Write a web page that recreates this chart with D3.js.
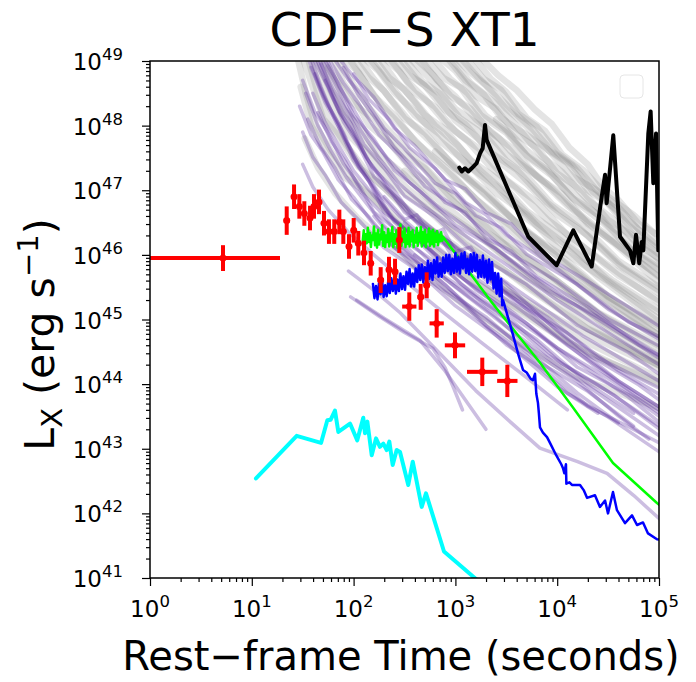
<!DOCTYPE html>
<html>
<head>
<meta charset="utf-8">
<script src="https://cdn.jsdelivr.net/npm/d3@7"></script>
<style>
    body { margin: 0; background: #fff; }
    #lightcurves { width: 696px; height: 682px; }
    svg { font-family: "DejaVu Sans", sans-serif; }
</style>
</head>
<body>
<div id="lightcurves"></div>
<script>
// all values are log10: [log t (s), log Lx (erg/s)]
const xTickExponents = [0, 1, 2, 3, 4, 5];
const yTickExponents = [41, 42, 43, 44, 45, 46, 47, 48, 49];
const minorMultipliers = [2, 3, 4, 5, 6, 7, 8, 9];

const redLogT = [0.717, 1.343, 1.415, 1.467, 1.516, 1.572, 1.611, 1.660, 1.709, 1.758, 1.810, 1.860, 1.899, 1.955, 2.001, 2.046, 2.102, 2.168, 2.266, 2.348, 2.407, 2.449, 2.547, 2.659, 2.718, 2.816, 2.996, 3.264, 3.510];
const redLogL = [45.95, 46.53, 46.90, 46.75, 46.64, 46.57, 46.75, 46.82, 46.49, 46.36, 46.36, 46.51, 46.36, 46.13, 46.38, 46.18, 46.03, 45.87, 45.61, 45.77, 45.74, 46.23, 45.20, 45.35, 45.53, 44.94, 44.60, 44.19, 44.05];
const redTErrLo = [0.717, 0.03, 0.025, 0.025, 0.025, 0.025, 0.025, 0.025, 0.025, 0.025, 0.025, 0.025, 0.025, 0.025, 0.025, 0.025, 0.025, 0.025, 0.03, 0.03, 0.03, 0.03, 0.07, 0.03, 0.03, 0.07, 0.10, 0.15, 0.10];
const redTErrHi = [0.56, 0.03, 0.025, 0.025, 0.025, 0.025, 0.025, 0.025, 0.025, 0.025, 0.025, 0.025, 0.025, 0.025, 0.025, 0.025, 0.025, 0.025, 0.03, 0.03, 0.03, 0.03, 0.07, 0.03, 0.03, 0.07, 0.10, 0.15, 0.10];
const redLErr = [0.2, 0.22, 0.19, 0.19, 0.19, 0.19, 0.19, 0.19, 0.19, 0.19, 0.19, 0.19, 0.19, 0.19, 0.19, 0.19, 0.19, 0.19, 0.2, 0.2, 0.2, 0.2, 0.22, 0.2, 0.2, 0.22, 0.2, 0.22, 0.25];

const greenCurve = [
    [2.09, 46.22], [2.10, 46.38], [2.11, 46.13], [2.12, 46.32], [2.13, 46.18], [2.14, 46.42], [2.15, 46.20], [2.16, 46.34],
    [2.17, 46.12], [2.18, 46.30], [2.19, 46.23], [2.20, 46.44], [2.21, 46.15], [2.22, 46.33], [2.23, 46.11], [2.24, 46.39],
    [2.25, 46.16], [2.26, 46.31], [2.27, 46.24], [2.28, 46.46], [2.29, 46.14], [2.30, 46.35], [2.31, 46.12], [2.32, 46.30],
    [2.33, 46.20], [2.34, 46.40], [2.35, 46.13], [2.36, 46.33], [2.37, 46.21], [2.38, 46.43], [2.39, 46.12], [2.40, 46.32],
    [2.41, 46.17], [2.42, 46.38], [2.43, 46.11], [2.44, 46.30], [2.45, 46.24], [2.46, 46.47], [2.47, 46.14], [2.48, 46.36],
    [2.49, 46.20], [2.50, 46.41], [2.51, 46.12], [2.52, 46.31], [2.53, 46.17], [2.54, 46.42], [2.55, 46.13], [2.56, 46.35],
    [2.57, 46.21], [2.58, 46.38], [2.59, 46.12], [2.60, 46.30], [2.61, 46.19], [2.62, 46.42], [2.63, 46.14], [2.64, 46.34],
    [2.65, 46.22], [2.66, 46.43], [2.67, 46.13], [2.68, 46.35], [2.69, 46.18], [2.70, 46.39], [2.71, 46.12], [2.72, 46.31],
    [2.73, 46.21], [2.74, 46.41], [2.75, 46.14], [2.76, 46.36], [2.77, 46.17], [2.78, 46.39], [2.79, 46.13], [2.80, 46.33],
    [2.81, 46.20], [2.82, 46.37], [2.83, 46.15], [2.84, 46.31], [2.85, 46.21], [2.86, 46.35], [2.87, 46.22], [2.878, 46.28],
    [3.34, 45.30], [3.831, 44.33], [4.155, 43.64], [4.548, 42.78], [4.98, 42.16], [5.05, 42.07]
];

const blueCurve = [
    [2.190, 45.55], [2.205, 45.33], [2.220, 45.52], [2.235, 45.31], [2.250, 45.57], [2.265, 45.39], [2.280, 45.60], [2.295, 45.35],
    [2.310, 45.53], [2.325, 45.36], [2.340, 45.59], [2.355, 45.41], [2.370, 45.64], [2.385, 45.44], [2.400, 45.65], [2.415, 45.40],
    [2.430, 45.62], [2.445, 45.44], [2.460, 45.71], [2.475, 45.47], [2.490, 45.67], [2.505, 45.46], [2.520, 45.74], [2.535, 45.55],
    [2.550, 45.78], [2.565, 45.51], [2.580, 45.71], [2.595, 45.51], [2.610, 45.79], [2.625, 45.58], [2.640, 45.84], [2.655, 45.61],
    [2.670, 45.85], [2.685, 45.57], [2.700, 45.81], [2.715, 45.60], [2.730, 45.91], [2.745, 45.63], [2.760, 45.87], [2.775, 45.61],
    [2.790, 45.92], [2.805, 45.71], [2.820, 45.96], [2.835, 45.66], [2.850, 45.87], [2.865, 45.66], [2.880, 45.96], [2.895, 45.72],
    [2.910, 46.00], [2.925, 45.75], [2.940, 46.00], [2.955, 45.70], [2.970, 45.94], [2.985, 45.72], [3.000, 46.03], [3.015, 45.74],
    [3.030, 45.97], [3.045, 45.71], [3.060, 46.02], [3.075, 45.79], [3.090, 46.04], [3.105, 45.72], [3.120, 45.94], [3.135, 45.70],
    [3.150, 46.01], [3.165, 45.74], [3.180, 46.03], [3.195, 45.75], [3.210, 46.00], [3.225, 45.65], [3.240, 45.92], [3.255, 45.66],
    [3.270, 45.99], [3.285, 45.65], [3.300, 45.91], [3.315, 45.57], [3.330, 45.93], [3.345, 45.62], [3.360, 45.89], [3.375, 45.48],
    [3.390, 45.72], [3.405, 45.40], [3.420, 45.71], [3.435, 45.36], [3.450, 45.63], [3.460, 45.22], [3.468, 45.30],
    [3.55, 44.85], [3.62, 44.45], [3.664, 44.22], [3.70, 44.18], [3.74, 44.08], [3.762, 44.06], [3.782, 44.16],
    [3.795, 43.85], [3.811, 43.71], [3.82, 43.55], [3.831, 43.33], [3.86, 43.25], [3.90, 43.18], [3.929, 43.09], [3.99, 42.90],
    [4.04, 42.76], [4.057, 42.70], [4.07, 42.62], [4.086, 42.76], [4.09, 42.46], [4.12, 42.48], [4.145, 42.44], [4.224, 42.44],
    [4.26, 42.36], [4.293, 42.24], [4.371, 42.28], [4.42, 42.10], [4.47, 42.20], [4.499, 42.00], [4.548, 42.33], [4.587, 42.05],
    [4.666, 41.85], [4.735, 41.97], [4.784, 41.82], [4.843, 41.86], [4.892, 41.69], [4.98, 41.60], [5.05, 41.58]
];

const cyanCurve = [
    [1.041, 42.54], [1.441, 43.20], [1.680, 43.09], [1.742, 43.44], [1.775, 43.45], [1.817, 43.59], [1.850, 43.26],
    [1.965, 43.39], [2.036, 43.13], [2.095, 43.48], [2.112, 43.24], [2.135, 43.42], [2.178, 42.90], [2.220, 43.16],
    [2.259, 43.03], [2.292, 43.08], [2.325, 42.98], [2.351, 43.11], [2.384, 42.75], [2.423, 42.98], [2.456, 42.95],
    [2.537, 42.44], [2.581, 42.80], [2.669, 42.10], [2.711, 42.31], [2.888, 41.41], [3.176, 41.02], [3.25, 40.92]
];

const blackCurve = [
    [3.038, 47.35], [3.062, 47.29], [3.094, 47.34], [3.127, 47.29], [3.160, 47.34], [3.209, 47.42], [3.242, 47.57],
    [3.268, 47.65], [3.291, 48.01], [3.307, 47.78], [3.716, 46.28], [3.995, 45.84], [4.158, 46.38], [4.339, 45.82],
    [4.437, 46.90], [4.470, 47.24], [4.486, 46.80], [4.551, 47.85], [4.617, 46.28], [4.715, 46.07], [4.748, 45.87],
    [4.774, 46.31], [4.806, 45.87], [4.830, 46.20], [4.846, 46.07], [4.895, 47.88], [4.918, 48.22], [4.944, 47.11],
    [4.971, 47.88], [4.993, 46.07], [5.02, 46.50]
];

const grayCurves = [
    [[3.25, 49.05], [3.42, 48.78], [3.6, 48.55], [3.78, 48.25], [3.95, 48.02], [4.12, 47.66], [4.3, 47.40], [4.45, 47.05], [4.6, 46.85], [4.8, 46.48], [5.05, 46.25]],
    [[3.1, 49.05], [3.28, 48.72], [3.45, 48.55], [3.62, 48.18], [3.8, 47.98], [4.0, 47.58], [4.2, 47.34], [4.4, 46.98], [4.6, 46.74], [4.82, 46.36], [5.05, 46.10]],
    [[3.0, 49.05], [3.15, 48.82], [3.3, 48.62], [3.5, 48.26], [3.7, 47.99], [3.9, 47.63], [4.1, 47.42], [4.3, 47.00], [4.5, 46.79], [4.75, 46.31], [5.05, 45.95]],
    [[2.85, 49.05], [3.0, 48.85], [3.2, 48.46], [3.4, 48.26], [3.6, 47.86], [3.8, 47.66], [4.0, 47.26], [4.25, 46.99], [4.5, 46.54], [4.75, 46.29], [5.05, 45.85]],
    [[2.7, 49.05], [2.88, 48.74], [3.05, 48.59], [3.25, 48.16], [3.5, 47.89], [3.7, 47.54], [3.9, 47.32], [4.15, 46.88], [4.4, 46.62], [4.7, 46.11], [5.05, 45.70]],
    [[2.6, 49.05], [2.78, 48.79], [2.95, 48.46], [3.15, 48.26], [3.35, 47.89], [3.55, 47.66], [3.8, 47.21], [4.05, 46.94], [4.3, 46.48], [4.65, 46.09], [5.05, 45.60]],
    [[2.5, 49.05], [2.68, 48.68], [2.85, 48.49], [3.05, 48.11], [3.3, 47.84], [3.5, 47.46], [3.7, 47.22], [3.95, 46.78], [4.25, 46.46], [4.6, 45.91], [5.05, 45.45]],
    [[2.4, 49.05], [2.55, 48.78], [2.7, 48.62], [2.9, 48.24], [3.1, 48.02], [3.35, 47.58], [3.6, 47.32], [3.9, 46.81], [4.2, 46.44], [4.6, 45.84], [5.05, 45.35]],
    [[2.3, 49.05], [2.45, 48.84], [2.6, 48.51], [2.8, 48.29], [3.0, 47.91], [3.25, 47.62], [3.5, 47.16], [3.8, 46.82], [4.1, 46.31], [4.5, 45.84], [5.05, 45.20]],
    [[2.2, 49.05], [2.35, 48.74], [2.5, 48.56], [2.7, 48.16], [2.9, 47.94], [3.15, 47.46], [3.4, 47.19], [3.7, 46.68], [4.0, 46.34], [4.5, 45.61], [5.05, 45.05]],
    [[2.1, 49.05], [2.25, 48.84], [2.4, 48.51], [2.6, 48.22], [2.85, 47.76], [3.1, 47.44], [3.4, 46.96], [3.7, 46.62], [4.0, 46.11], [4.5, 45.59], [5.05, 44.95]],
    [[2.0, 49.05], [2.15, 48.74], [2.3, 48.54], [2.5, 48.11], [2.7, 47.89], [3.0, 47.34], [3.3, 46.99], [3.65, 46.41], [4.0, 46.04], [4.5, 45.36], [5.05, 44.80]],
    [[1.9, 49.05], [2.05, 48.82], [2.2, 48.46], [2.4, 48.16], [2.6, 47.76], [2.9, 47.36], [3.2, 46.86], [3.55, 46.44], [3.9, 45.91], [4.45, 45.34], [5.05, 44.70]],
    [[1.8, 49.05], [1.9, 48.66], [2.0, 48.44], [2.15, 48.01], [2.35, 47.74], [2.6, 47.26], [2.9, 46.94], [3.3, 46.36], [3.8, 45.84], [4.4, 45.11], [5.05, 44.55]],
    [[1.7, 49.05], [1.8, 48.69], [1.9, 48.26], [2.05, 47.99], [2.25, 47.56], [2.5, 47.24], [2.8, 46.76], [3.2, 46.34], [3.7, 45.66], [4.35, 45.04], [5.05, 44.40]],
    [[1.6, 49.05], [1.7, 48.56], [1.8, 48.29], [1.95, 47.86], [2.15, 47.54], [2.4, 47.06], [2.7, 46.74], [3.1, 46.16], [3.6, 45.64], [4.3, 44.86], [5.05, 44.30]],
    [[1.5, 49.05], [1.6, 48.59], [1.7, 48.11], [1.85, 47.84], [2.05, 47.36], [2.3, 47.04], [2.6, 46.56], [3.0, 46.14], [3.5, 45.46], [4.2, 44.84], [5.05, 44.20]],
    [[1.48, 48.6], [1.58, 48.01], [1.7, 47.69], [1.9, 47.21], [2.15, 46.94], [2.45, 46.46], [2.8, 46.14], [3.2, 45.56], [3.7, 45.09], [4.3, 44.46], [5.05, 44.00]],
    [[2.95, 49.05], [3.15, 48.66], [3.4, 48.34], [3.65, 47.91], [3.9, 47.64], [4.15, 47.21], [4.4, 46.99], [4.7, 46.46], [5.05, 46.00]],
    [[2.55, 49.05], [2.75, 48.72], [3.0, 48.26], [3.25, 47.99], [3.5, 47.56], [3.8, 47.22], [4.1, 46.76], [4.55, 46.19], [5.05, 45.50]],
    [[2.15, 49.05], [2.35, 48.66], [2.6, 48.16], [2.85, 47.86], [3.1, 47.41], [3.4, 47.06], [3.7, 46.56], [4.05, 46.16], [4.4, 45.66], [5.05, 44.90]],
    [[1.75, 48.9], [1.95, 48.41], [2.2, 48.09], [2.45, 47.61], [2.7, 47.34], [3.0, 46.81], [3.3, 46.44], [3.65, 45.91], [4.0, 45.54], [4.5, 44.86], [5.05, 44.30]],
    [[3.18, 49.05], [3.35, 48.72], [3.5, 48.52], [3.7, 48.12], [3.88, 47.92], [4.05, 47.55], [4.25, 47.32], [4.5, 46.90], [4.75, 46.62], [5.05, 46.20]],
    [[3.05, 49.05], [3.22, 48.75], [3.4, 48.48], [3.58, 48.20], [3.75, 47.96], [3.95, 47.60], [4.15, 47.38], [4.35, 46.98], [4.6, 46.68], [4.85, 46.32], [5.05, 46.05]],
    [[2.92, 49.05], [3.1, 48.70], [3.28, 48.48], [3.45, 48.12], [3.65, 47.90], [3.85, 47.52], [4.05, 47.28], [4.3, 46.85], [4.55, 46.55], [4.8, 46.15], [5.05, 45.90]],
    [[2.78, 49.05], [2.95, 48.72], [3.12, 48.50], [3.3, 48.15], [3.5, 47.92], [3.72, 47.50], [3.95, 47.22], [4.2, 46.80], [4.45, 46.50], [4.75, 46.05], [5.05, 45.75]],
    [[2.65, 49.05], [2.82, 48.70], [3.0, 48.45], [3.2, 48.10], [3.42, 47.82], [3.65, 47.42], [3.9, 47.10], [4.15, 46.72], [4.45, 46.35], [4.75, 45.95], [5.05, 45.62]],
    [[2.45, 49.05], [2.62, 48.72], [2.8, 48.48], [3.0, 48.08], [3.22, 47.80], [3.45, 47.42], [3.7, 47.10], [4.0, 46.62], [4.3, 46.30], [4.65, 45.80], [5.05, 45.40]],
    [[2.35, 49.05], [2.52, 48.70], [2.7, 48.42], [2.9, 48.05], [3.12, 47.76], [3.35, 47.35], [3.6, 47.02], [3.9, 46.55], [4.2, 46.20], [4.6, 45.68], [5.05, 45.25]],
    [[2.25, 49.05], [2.42, 48.68], [2.6, 48.38], [2.8, 48.00], [3.02, 47.70], [3.25, 47.30], [3.5, 46.95], [3.8, 46.50], [4.15, 46.08], [4.55, 45.60], [5.05, 45.10]],
    [[2.05, 49.05], [2.2, 48.72], [2.38, 48.38], [2.58, 48.02], [2.8, 47.68], [3.05, 47.28], [3.35, 46.86], [3.7, 46.35], [4.05, 45.92], [4.5, 45.35], [5.05, 44.85]],
    [[1.95, 49.05], [2.1, 48.70], [2.28, 48.30], [2.48, 47.98], [2.72, 47.58], [2.98, 47.20], [3.28, 46.75], [3.62, 46.28], [4.0, 45.80], [4.5, 45.20], [5.05, 44.65]],
    [[1.85, 49.05], [1.98, 48.68], [2.15, 48.28], [2.35, 47.92], [2.58, 47.55], [2.85, 47.12], [3.15, 46.70], [3.5, 46.22], [3.9, 45.72], [4.4, 45.10], [5.05, 44.50]],
    [[1.65, 49.05], [1.76, 48.58], [1.88, 48.20], [2.05, 47.82], [2.28, 47.40], [2.55, 47.00], [2.85, 46.60], [3.25, 46.05], [3.7, 45.50], [4.3, 44.85], [5.05, 44.25]],
    [[1.55, 49.05], [1.64, 48.55], [1.75, 48.10], [1.92, 47.72], [2.12, 47.30], [2.38, 46.92], [2.7, 46.48], [3.1, 45.95], [3.6, 45.35], [4.2, 44.72], [5.05, 44.05]],
    [[1.45, 49.05], [1.53, 48.50], [1.62, 48.02], [1.78, 47.60], [1.98, 47.20], [2.25, 46.80], [2.55, 46.40], [2.95, 45.85], [3.45, 45.30], [4.1, 44.65], [5.05, 43.95]],
    [[1.52, 47.8], [1.65, 47.35], [1.82, 46.95], [2.05, 46.55], [2.35, 46.15], [2.7, 45.70], [3.1, 45.20], [3.6, 44.65], [4.2, 44.10], [5.05, 43.60]],
    [[2.5, 47.3], [2.8, 46.90], [3.1, 46.50], [3.5, 45.95], [3.9, 45.45], [4.35, 44.90], [4.8, 44.45], [5.05, 44.25]],
    [[2.8, 47.6], [3.1, 47.20], [3.45, 46.70], [3.8, 46.25], [4.2, 45.70], [4.6, 45.20], [5.05, 44.70]],
    [[3.4, 48.1], [3.7, 47.62], [4.0, 47.20], [4.3, 46.75], [4.6, 46.35], [4.85, 46.00], [5.05, 45.80]]
];

const purpleCurves = [
    [[1.55, 49.05], [1.7, 48.46], [1.85, 48.04], [2.0, 47.51], [2.15, 47.14], [2.3, 46.66], [2.6, 46.29], [3.0, 45.71], [3.5, 45.19], [4.0, 44.56], [4.5, 44.09], [5.05, 43.50]],
    [[1.6, 49.05], [1.75, 48.59], [1.9, 48.06], [2.05, 47.69], [2.2, 47.21], [2.4, 46.89], [2.7, 46.36], [3.1, 45.94], [3.6, 45.26], [4.1, 44.79], [4.6, 44.21], [5.05, 43.80]],
    [[1.65, 49.05], [1.8, 48.56], [1.95, 48.19], [2.1, 47.71], [2.3, 47.34], [2.5, 46.91], [2.8, 46.59], [3.2, 46.01], [3.7, 45.54], [4.2, 44.91], [4.7, 44.49], [5.05, 44.10]],
    [[1.7, 49.05], [1.85, 48.66], [2.0, 48.16], [2.2, 47.79], [2.4, 47.31], [2.65, 46.99], [3.0, 46.46], [3.4, 46.09], [3.9, 45.46], [4.4, 45.04], [5.05, 44.40]],
    [[1.75, 49.05], [1.9, 48.66], [2.05, 48.34], [2.25, 47.86], [2.45, 47.54], [2.7, 47.06], [3.05, 46.69], [3.5, 46.06], [4.0, 45.59], [4.5, 45.01], [5.05, 44.55]],
    [[1.5, 48.7], [1.62, 48.21], [1.75, 47.89], [1.9, 47.41], [2.05, 47.09], [2.2, 46.66], [2.5, 46.29], [2.9, 45.66], [3.4, 45.14], [3.9, 44.46], [4.4, 43.99], [5.05, 43.30]],
    [[1.47, 48.3], [1.58, 47.86], [1.7, 47.59], [1.85, 47.16], [2.0, 46.89], [2.2, 46.46], [2.5, 46.09], [2.9, 45.46], [3.3, 45.04], [3.8, 44.36], [4.3, 43.89], [4.75, 43.35]],
    [[1.5, 47.9], [1.6, 47.51], [1.72, 47.24], [1.88, 46.81], [2.05, 46.54], [2.3, 46.11], [2.6, 45.79], [3.0, 45.21], [3.5, 44.64], [4.0, 43.96], [4.4, 43.55]],
    [[1.8, 49.05], [1.95, 48.71], [2.1, 48.44], [2.3, 47.96], [2.5, 47.64], [2.8, 47.11], [3.0, 46.95], [3.2, 46.61], [3.45, 46.42], [3.7, 46.01], [4.2, 45.54], [4.7, 44.96], [5.05, 44.70]],
    [[1.85, 49.05], [2.0, 48.76], [2.2, 48.44], [2.4, 47.96], [2.6, 47.69], [2.9, 47.16], [3.1, 47.02], [3.3, 46.66], [3.55, 46.48], [3.8, 46.06], [4.3, 45.59], [5.05, 44.85]],
    [[1.58, 48.9], [1.72, 48.36], [1.85, 47.99], [2.0, 47.46], [2.15, 47.14], [2.35, 46.61], [2.65, 46.19], [3.05, 45.56], [3.55, 44.99], [4.05, 44.31], [4.55, 43.84], [5.05, 43.25]],
    [[1.62, 48.8], [1.75, 48.31], [1.9, 47.89], [2.05, 47.36], [2.2, 47.04], [2.4, 46.51], [2.75, 46.09], [3.2, 45.46], [3.7, 44.94], [4.2, 44.26], [4.7, 43.84], [5.05, 43.45]],
    [[1.68, 48.95], [1.82, 48.41], [1.97, 48.04], [2.12, 47.51], [2.28, 47.19], [2.5, 46.66], [2.85, 46.24], [3.3, 45.61], [3.8, 45.09], [4.3, 44.46], [4.8, 43.99], [5.05, 43.70]],
    [[1.72, 48.7], [1.86, 48.21], [2.0, 47.89], [2.18, 47.36], [2.38, 47.04], [2.6, 46.56], [2.95, 46.19], [3.4, 45.56], [3.9, 45.04], [4.4, 44.41], [5.05, 43.90]],
    [[1.9, 48.9], [2.05, 48.46], [2.2, 48.14], [2.4, 47.66], [2.6, 47.34], [2.9, 46.81], [3.1, 46.66], [3.3, 46.26], [3.55, 46.06], [3.8, 45.66], [4.3, 45.19], [4.8, 44.61], [5.05, 44.40]],
    [[2.0, 48.8], [2.15, 48.41], [2.35, 48.09], [2.55, 47.66], [2.8, 47.34], [3.1, 46.81], [3.3, 46.62], [3.5, 46.31], [4.0, 45.79], [4.5, 45.16], [5.05, 44.65]],
    [[1.55, 48.1], [1.68, 47.66], [1.82, 47.34], [1.98, 46.86], [2.15, 46.59], [2.4, 46.11], [2.75, 45.74], [3.2, 45.11], [3.7, 44.54], [4.2, 43.86], [4.6, 43.40]],
    [[1.65, 48.2], [1.78, 47.76], [1.92, 47.44], [2.08, 46.96], [2.25, 46.69], [2.5, 46.21], [2.85, 45.84], [3.3, 45.21], [3.8, 44.69], [4.3, 44.01], [4.75, 43.55]],
    [[1.95, 45.75], [2.2, 45.45], [2.46, 45.10], [2.8, 44.55], [3.2, 43.90], [3.55, 43.40], [3.83, 43.01], [4.2, 42.80], [4.49, 42.62], [4.75, 42.28], [5.05, 41.85]],
    [[1.97, 45.35], [2.25, 45.05], [2.5, 44.80], [2.78, 44.55], [2.9, 44.25], [2.98, 43.95], [3.07, 43.60]],
    [[2.03, 45.30], [2.3, 45.02], [2.65, 44.68], [2.9, 44.20], [3.1, 43.75], [3.3, 43.30]],
    [[2.2, 46.6], [2.5, 46.06], [2.9, 45.54], [3.3, 44.91], [3.7, 44.44], [4.1, 43.86], [4.5, 43.49], [5.05, 42.90]],
    [[2.35, 46.2], [2.7, 45.66], [3.1, 45.19], [3.5, 44.61], [3.9, 44.19], [4.3, 43.66], [4.7, 43.34], [5.05, 43.05]],
    [[2.6, 46.0], [3.0, 45.51], [3.4, 45.04], [3.8, 44.46], [4.2, 44.04], [4.6, 43.51], [4.9, 43.15]],
    [[1.58, 49.05], [1.68, 48.6], [1.8, 48.15], [1.93, 47.75], [2.08, 47.35], [2.25, 46.95], [2.45, 46.6], [2.75, 46.2], [3.15, 45.7], [3.6, 45.2], [4.1, 44.6], [4.6, 44.05], [5.05, 43.6]],
    [[1.63, 49.05], [1.74, 48.65], [1.87, 48.2], [2.0, 47.85], [2.15, 47.45], [2.32, 47.05], [2.55, 46.7], [2.85, 46.3], [3.25, 45.85], [3.75, 45.3], [4.25, 44.75], [5.05, 44.0]],
    [[1.68, 49.05], [1.8, 48.7], [1.93, 48.3], [2.08, 47.9], [2.25, 47.5], [2.45, 47.1], [2.7, 46.75], [3.05, 46.35], [3.5, 45.85], [4.0, 45.3], [4.6, 44.7], [5.05, 44.25]],
    [[1.53, 48.5], [1.65, 48.0], [1.78, 47.6], [1.93, 47.2], [2.1, 46.85], [2.3, 46.45], [2.6, 46.0], [3.0, 45.5], [3.45, 44.95], [3.95, 44.35], [4.5, 43.75], [5.05, 43.15]],
    [[1.5, 47.4], [1.6, 47.05], [1.75, 46.7], [1.95, 46.35], [2.2, 46.0], [2.5, 45.6], [2.85, 45.15], [3.25, 44.65], [3.7, 44.1], [4.1, 43.6]],
    [[1.73, 49.05], [1.86, 48.6], [2.0, 48.25], [2.15, 47.85], [2.33, 47.5], [2.55, 47.12], [2.85, 46.72], [3.2, 46.32], [3.65, 45.8], [4.15, 45.25], [4.7, 44.7], [5.05, 44.35]],
    [[1.6, 48.5], [1.72, 48.05], [1.85, 47.7], [2.0, 47.3], [2.18, 46.95], [2.4, 46.55], [2.7, 46.15], [3.1, 45.6], [3.6, 45.0], [4.1, 44.45], [4.7, 43.8], [5.05, 43.35]],
    [[2.3, 46.9], [2.5, 46.55], [2.62, 46.62], [2.75, 46.3], [2.88, 46.4], [3.0, 46.05], [3.15, 46.12], [3.3, 45.78], [3.5, 45.55], [3.8, 45.1], [4.2, 44.55], [4.6, 44.05], [5.05, 43.6]],
    [[2.5, 46.5], [2.7, 46.2], [2.85, 46.28], [3.0, 45.9], [3.15, 45.98], [3.35, 45.6], [3.6, 45.3], [3.95, 44.8], [4.35, 44.3], [4.8, 43.8], [5.05, 43.55]]
];

(function () {
    "use strict";

    const lum = d => 10 ** d;

    function drawCurves(selection, line, curves, className) {
        const canvas = selection.append("g")
            .attr("class", className);

        for (const curve of curves) {
            canvas.append("path")
                .attr("d", line(curve));
        }

        return canvas;
    }

    function addPowerLabel(text, exponent) {
        text.append("tspan").text("10");
        text.append("tspan")
            .attr("dy", "-10")
            .style("font-size", "16.5px")
            .text(exponent);
    }

    function drawAxes(svg, xScale, yScale, plot) {
        const xMajor = xTickExponents.map(lum);
        const yMajor = yTickExponents.map(lum);
        const xMinor = xTickExponents.slice(0, -1)
            .flatMap(e => minorMultipliers.map(m => m * lum(e)));
        const yMinor = yTickExponents.slice(0, -1)
            .flatMap(e => minorMultipliers.map(m => m * lum(e)));

        const xAxisGroup = svg.append("g")
            .attr("class", "axis x-axis")
            .attr("transform", `translate(0,${plot.bottom})`);

        xAxisGroup.append("g")
            .call(d3.axisBottom(xScale).tickValues(xMinor).tickFormat("").tickSize(4).tickSizeOuter(0));
        xAxisGroup.append("g")
            .call(d3.axisBottom(xScale).tickValues(xMajor).tickFormat("").tickSize(8).tickSizeOuter(0));

        const yAxisGroup = svg.append("g")
            .attr("class", "axis y-axis")
            .attr("transform", `translate(${plot.left},0)`);

        yAxisGroup.append("g")
            .call(d3.axisLeft(yScale).tickValues(yMinor).tickFormat("").tickSize(4).tickSizeOuter(0));
        yAxisGroup.append("g")
            .call(d3.axisLeft(yScale).tickValues(yMajor).tickFormat("").tickSize(8).tickSizeOuter(0));

        svg.selectAll(".axis path.domain").remove();
        svg.selectAll(".axis line").attr("stroke", "#000").attr("stroke-width", 1.2);

        for (const e of xTickExponents) {
            const label = svg.append("text")
                .attr("x", xScale(lum(e)))
                .attr("y", plot.bottom + 39)
                .attr("text-anchor", "middle")
                .style("font-size", "23px");
            addPowerLabel(label, e);
        }

        for (const e of yTickExponents) {
            const label = svg.append("text")
                .attr("x", plot.left - 27)
                .attr("y", yScale(lum(e)) + 9)
                .attr("text-anchor", "end")
                .style("font-size", "23px");
            addPowerLabel(label, e);
        }
    }

    function drawErrorBars(selection, xScale, yScale) {
        const canvas = selection.append("g")
            .attr("class", "xt1-points")
            .attr("stroke", "#ff0000")
            .attr("stroke-width", 4)
            .attr("stroke-linecap", "butt");

        redLogT.forEach((t, i) => {
            const l = redLogL[i];
            canvas.append("line")
                .attr("x1", xScale(lum(t - redTErrLo[i])))
                .attr("x2", xScale(lum(t + redTErrHi[i])))
                .attr("y1", yScale(lum(l)))
                .attr("y2", yScale(lum(l)));
            canvas.append("line")
                .attr("x1", xScale(lum(t)))
                .attr("x2", xScale(lum(t)))
                .attr("y1", yScale(lum(l - redLErr[i])))
                .attr("y2", yScale(lum(l + redLErr[i])));
            canvas.append("circle")
                .attr("cx", xScale(lum(t)))
                .attr("cy", yScale(lum(l)))
                .attr("r", 3.5)
                .attr("fill", "#ff0000")
                .attr("stroke", "none");
        });
    }

    function drawChart(selection) {
        const width = 696;
        const height = 682;
        const plot = { left: 150, right: 659, top: 61, bottom: 578 };

        const svg = selection.append("svg")
            .attr("width", width)
            .attr("height", height);

        const xScale = d3.scaleLog()
            .domain([lum(xTickExponents[0]), lum(xTickExponents[xTickExponents.length - 1])])
            .range([plot.left, plot.right]);

        const yScale = d3.scaleLog()
            .domain([lum(yTickExponents[0]), lum(yTickExponents[yTickExponents.length - 1])])
            .range([plot.bottom, plot.top]);

        svg.append("clipPath")
            .attr("id", "plot-clip")
            .append("rect")
            .attr("x", plot.left)
            .attr("y", plot.top)
            .attr("width", plot.right - plot.left)
            .attr("height", plot.bottom - plot.top);

        const canvas = svg.append("g")
            .attr("clip-path", "url(#plot-clip)")
            .attr("fill", "none")
            .attr("stroke-linejoin", "round")
            .attr("stroke-linecap", "round");

        const line = d3.line()
            .x(d => xScale(lum(d[0])))
            .y(d => yScale(lum(d[1])));

        drawCurves(canvas, line, grayCurves, "comparison-gray")
            .attr("stroke", "#7a7a7a")
            .attr("stroke-opacity", 0.2)
            .attr("stroke-width", 6.5);

        drawCurves(canvas, line, purpleCurves, "comparison-purple")
            .attr("stroke", "#55289a")
            .attr("stroke-opacity", 0.3)
            .attr("stroke-width", 3.5);

        drawCurves(canvas, line, [blackCurve], "black-curve")
            .attr("stroke", "#000")
            .attr("stroke-width", 4);

        drawCurves(canvas, line, [greenCurve], "green-curve")
            .attr("stroke", "#00ff00")
            .attr("stroke-width", 2.5);

        drawCurves(canvas, line, [blueCurve], "blue-curve")
            .attr("stroke", "#0000ff")
            .attr("stroke-width", 2.5);

        drawCurves(canvas, line, [cyanCurve], "cyan-curve")
            .attr("stroke", "#00ffff")
            .attr("stroke-width", 4);

        drawErrorBars(canvas, xScale, yScale);

        // empty legend frame
        svg.append("rect")
            .attr("x", 620)
            .attr("y", 75)
            .attr("width", 23)
            .attr("height", 23)
            .attr("rx", 4)
            .attr("fill", "#fff")
            .attr("fill-opacity", 0.8)
            .attr("stroke", "#e6e6e6");

        svg.append("rect")
            .attr("x", plot.left)
            .attr("y", plot.top)
            .attr("width", plot.right - plot.left)
            .attr("height", plot.bottom - plot.top)
            .attr("fill", "none")
            .attr("stroke", "#000")
            .attr("stroke-width", 1.5);

        drawAxes(svg, xScale, yScale, plot);

        svg.append("text")
            .attr("x", (plot.left + plot.right) / 2)
            .attr("y", 46)
            .attr("text-anchor", "middle")
            .style("font-size", "47px")
            .text("CDF\u2212S XT1");

        svg.append("text")
            .attr("x", 401)
            .attr("y", 670)
            .attr("text-anchor", "middle")
            .style("font-size", "40px")
            .text("Rest\u2212frame Time (seconds)");

        const yLabel = svg.append("text")
            .attr("transform", `translate(54,${(plot.top + plot.bottom) / 2 + 15}) rotate(-90)`)
            .attr("text-anchor", "middle")
            .style("font-size", "41px");
        yLabel.append("tspan").text("L");
        yLabel.append("tspan").attr("dy", "8").style("font-size", "29px").text("X");
        yLabel.append("tspan").attr("dy", "-8").text(" (erg s");
        yLabel.append("tspan").attr("dy", "-16").style("font-size", "29px").text("\u22121");
        yLabel.append("tspan").attr("dy", "16").text(")");
    }

    d3.select("#lightcurves")
        .call(drawChart);
}());
</script>
</body>
</html>
